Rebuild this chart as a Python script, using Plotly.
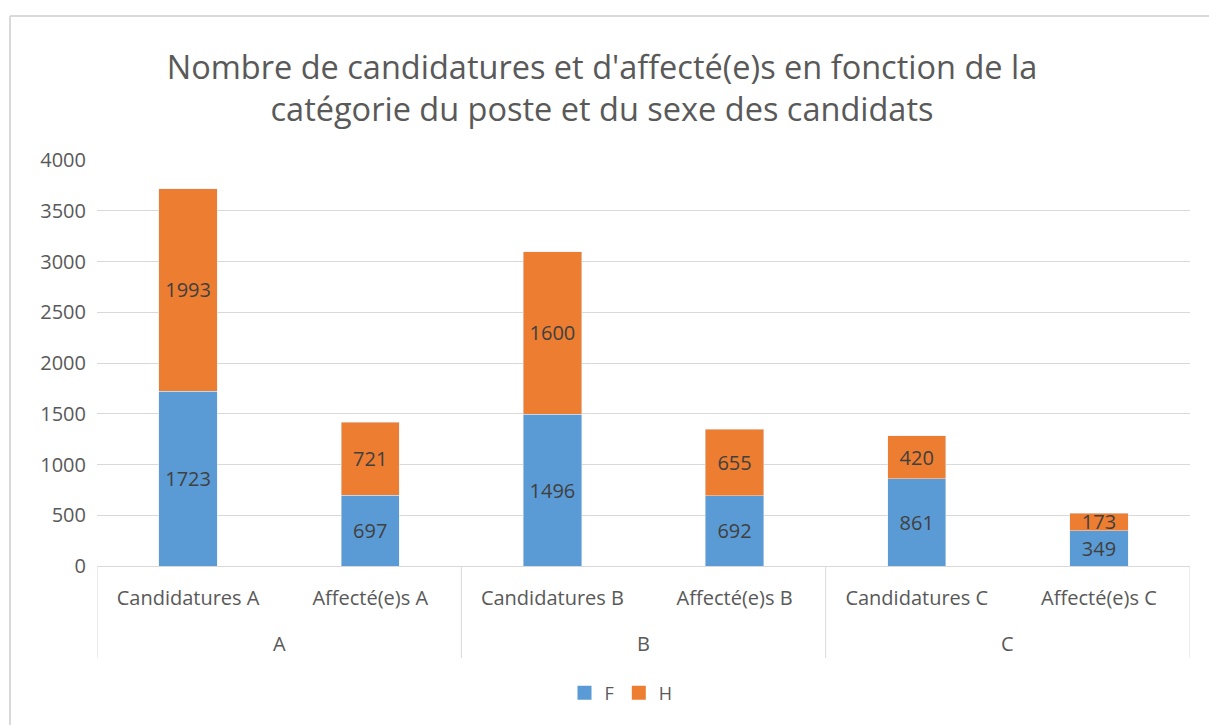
import plotly.graph_objects as go

groups = ["A", "A", "B", "B", "C", "C"]
categories = ["Candidatures A", "Affecté(e)s A", "Candidatures B", "Affecté(e)s B", "Candidatures C", "Affecté(e)s C"]
f_values = [1723, 697, 1496, 692, 861, 349]
h_values = [1993, 721, 1600, 655, 420, 173]
y_ticks = [0, 500, 1000, 1500, 2000, 2500, 3000, 3500, 4000]
series_names = ["F", "H"]
series_colors = ["#5B9BD5", "#ED7D31"]

FONT = "Open Sans"
W, H = 1209, 725
L, R, T, B = 97, 19, 160, 159
PH = H - T - B
PW = W - L - R

fig = go.Figure()
for name, vals, col in zip(series_names, [f_values, h_values], series_colors):
    fig.add_trace(go.Bar(
        name=name, x=categories, y=vals, marker_color=col, showlegend=False,
        text=[str(v) for v in vals], textposition="inside", insidetextanchor="middle",
        textfont=dict(color="#404040", size=20, family=FONT), width=0.32,
    ))
# legend entries with square markers
for name, col in zip(series_names, series_colors):
    fig.add_trace(go.Scatter(
        name=name, x=[None], y=[None], mode="markers",
        marker=dict(symbol="square", size=14, color=col), showlegend=True,
    ))

annotations = []
shapes = []
uniq = []
for g in groups:
    if g not in uniq:
        uniq.append(g)
for g in uniq:
    idx = [i for i, v in enumerate(groups) if v == g]
    annotations.append(dict(x=(idx[0] + idx[-1]) / 2, y=-(643 - 566) / PH, xref="x", yref="paper",
                            text=g, showarrow=False, yanchor="middle",
                            font=dict(size=20, color="#595959", family=FONT)))
bounds = [-0.5] + [i + 0.5 for i in range(len(groups) - 1) if groups[i] != groups[i + 1]] + [len(groups) - 0.5]
for bx in bounds:
    shapes.append(dict(type="line", xref="x", yref="paper", x0=bx, x1=bx, y0=0, y1=-(658 - 566) / PH,
                       line=dict(color="#D9D9D9", width=1)))
# chart border (left and top edges)
bx0 = (10 - L) / PW
by1 = (H - B - 16) / PH
shapes.append(dict(type="line", xref="paper", yref="paper", x0=bx0, x1=1.5, y0=by1, y1=by1,
                   line=dict(color="#D9D9D9", width=2), layer="below"))
shapes.append(dict(type="line", xref="paper", yref="paper", x0=bx0, x1=bx0, y0=-1, y1=by1,
                   line=dict(color="#D9D9D9", width=2), layer="below"))

fig.update_layout(
    barmode="stack",
    width=W, height=H,
    margin=dict(l=L, r=R, t=T, b=B),
    paper_bgcolor="white", plot_bgcolor="white",
    font=dict(family=FONT, color="#595959", size=20),
    uniformtext=dict(minsize=20, mode="show"),
    title=dict(
        text="Nombre de candidatures et d'affecté(e)s en fonction de la<br>catégorie du poste et du sexe des candidats",
        x=602 / W, xanchor="center", y=1 - 78.5 / H, yanchor="middle",
        font=dict(size=32.5, color="#595959", family=FONT),
    ),
    legend=dict(orientation="h", x=(621 - L) / PW, xanchor="center", y=-(693 - 566) / PH, yanchor="middle",
                font=dict(size=18, color="#595959"), traceorder="normal", itemwidth=30,
                tracegroupgap=0),
    showlegend=True,
    annotations=annotations,
    shapes=shapes,
)
fig.update_yaxes(range=[0, 4000], tickvals=y_ticks, showgrid=True, gridcolor="#D9D9D9", gridwidth=1,
                 zeroline=False, showline=False, ticks="", tickfont=dict(size=20, color="#595959"),
                 ticklabelstandoff=10)
fig.update_xaxes(range=[-0.5, 5.5], showline=True, linecolor="#D9D9D9", linewidth=1,
                 tickfont=dict(size=20, color="#595959"), ticks="", ticklabelstandoff=14)
fig.write_html("out.html", config={"displayModeBar": False},
               post_script="document.body.style.margin='0';document.body.style.overflow='hidden';")
